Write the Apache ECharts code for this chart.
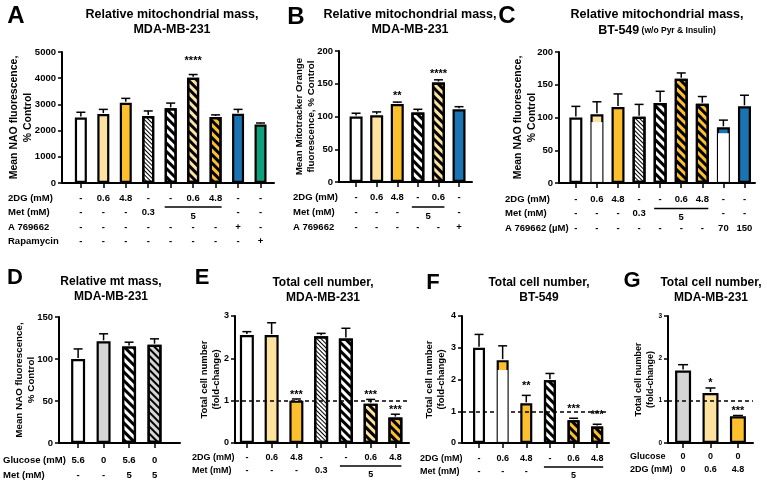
<!DOCTYPE html>
<html>
<head>
<meta charset="utf-8">
<script src="https://cdn.jsdelivr.net/npm/echarts@6/dist/echarts.min.js"></script>
<style>
  html, body { margin: 0; padding: 0; background: #fff; }
  #main { width: 767px; height: 487px; }
</style>
</head>
<body>
<div id="main"></div>
<script>
// ---- A: relative mitochondrial mass, MDA-MB-231 (NAO)
const aMean = [2500, 2630, 3060, 2560, 2850, 4020, 2520, 2640, 2230];
const aSem = [200, 180, 170, 190, 200, 120, 80, 170, 60];
const aStars = ['', '', '', '', '', '****', '', '', ''];
const aDG = ['-', '0.6', '4.8', '-', '-', '0.6', '4.8', '-', '-'];
const aMet = ['-', '-', '-', '0.3', '', '', '', '-', '-'];
const aA76 = ['-', '-', '-', '-', '-', '-', '-', '+', '-'];
const aRapa = ['-', '-', '-', '-', '-', '-', '-', '-', '+'];

// ---- B: relative mitochondrial mass, MDA-MB-231 (Mitotracker Orange)
const bMean = [100, 102, 119, 106, 152, 111];
const bSem = [5, 5, 3, 5, 4, 4];
const bStars = ['', '', '**', '', '****', ''];
const bDG = ['-', '0.6', '4.8', '-', '0.6', '-'];
const bMet = ['-', '-', '-', '', '', '-'];
const bA76 = ['-', '-', '-', '-', '-', '+'];

// ---- C: relative mitochondrial mass, BT-549
const cMean = [100, 105, 116, 101, 122, 159, 121, 85, 117];
const cSem = [17, 19, 20, 19, 18, 9, 11, 11, 17];
const cSplit = [0, 93, 0, 0, 0, 0, 0, 76, 0];
const cStars = ['', '', '', '', '', '', '', '', ''];
const cDG = ['-', '0.6', '4.8', '-', '-', '0.6', '4.8', '-', '-'];
const cMet = ['-', '-', '-', '0.3', '', '', '', '-', '-'];
const cA76 = ['-', '-', '-', '-', '-', '-', '-', '70', '150'];

// ---- D: relative mt mass, MDA-MB-231
const dMean = [100, 121, 115, 117];
const dSem = [12, 9, 5, 7];
const dStars = ['', '', '', ''];
const dGlc = ['5.6', '0', '5.6', '0'];
const dMet = ['-', '-', '5', '5'];

// ---- E: total cell number, MDA-MB-231
const eMean = [2.55, 2.55, 1.0, 2.52, 2.47, 0.93, 0.6];
const eSem = [0.08, 0.29, 0.04, 0.07, 0.24, 0.1, 0.08];
const eStars = ['', '', '***', '', '', '***', '***'];
const eDG = ['-', '0.6', '4.8', '-', '-', '0.6', '4.8'];
const eMet = ['-', '-', '-', '0.3', '', '', ''];

// ---- F: total cell number, BT-549
const fMean = [3.0, 2.61, 1.25, 1.98, 0.72, 0.52];
const fSem = [0.42, 0.45, 0.25, 0.21, 0.06, 0.07];
const fSplit = [0, 2.3, 0, 0, 0, 0];
const fStars = ['', '', '**', '', '***', '***'];
const fDG = ['-', '0.6', '4.8', '-', '0.6', '4.8'];
const fMet = ['-', '-', '-', '', '', ''];

// ---- G: total cell number, MDA-MB-231 (glucose free)
const gMean = [1.71, 1.18, 0.63];
const gSem = [0.14, 0.12, 0.02];
const gStars = ['', '*', '***'];
const gGlc = ['0', '0', '0'];
const gDG = ['0', '0.6', '4.8'];

const FONT = '"Liberation Sans", Arial, sans-serif';

function stripes(w, gap) {
  return { symbol: 'rect', symbolSize: 1, dashArrayX: [1, 0], dashArrayY: [w, gap], rotation: Math.PI / 4, color: '#000', backgroundColor: null };
}
const fills = {
  white: { color: '#ffffff' },
  light: { color: '#fde2a0' },
  yellow: { color: '#fcc02e' },
  blue: { color: '#1a74b2' },
  green: { color: '#11a07b' },
  grey: { color: '#d5d5d5' },
  fine: { color: '#ffffff', decal: stripes(1, 1.4) },
  hatch: { color: '#ffffff', decal: stripes(2.3, 2.7) },
  lightHatch: { color: '#fde2a0', decal: stripes(2.3, 2.7) },
  yellowHatch: { color: '#fcc02e', decal: stripes(2.3, 2.7) },
  greyHatch: { color: '#d5d5d5', decal: stripes(1.6, 2.4) }
};

const panels = [
  { letter: 'A', letterPos: [16, 16], letterSize: 24, title: ['Relative mitochondrial mass,', 'MDA-MB-231'], titlePos: [172, 15], titleSize: 12.5,
    grid: { left: 62, top: 52, width: 212, height: 131 }, xMin: -0.84, xMax: 8.6, yMax: 5000, yStep: 1000,
    yName: 'Mean NAO fluorescence,\n% Control', yNameSize: 10.5, yNameGap: 27, tickSize: 9.5,
    barWidth: 12, cap: 4.5, starGap: 14, mean: aMean, sem: aSem, stars: aStars,
    fill: ['white', 'light', 'yellow', 'fine', 'hatch', 'lightHatch', 'yellowHatch', 'blue', 'green'],
    rowX: 8, rowSize: 9.5,
    rows: [{ name: '2DG (mM)', vals: aDG, off: 15 }, { name: 'Met (mM)', vals: aMet, off: 29 }, { name: 'A 769662', vals: aA76, off: 44 }, { name: 'Rapamycin', vals: aRapa, off: 58 }],
    span: { row: 1, from: 4, to: 6, label: '5' } },
  { letter: 'B', letterPos: [296, 17], letterSize: 24, title: ['Relative mitochondrial mass,', 'MDA-MB-231'], titlePos: [410, 15], titleSize: 12.5,
    grid: { left: 339, top: 51, width: 133, height: 131 }, xMin: -0.83, xMax: 5.63, yMax: 200, yStep: 50,
    yName: 'Mean Mitotracker Orange\nfluorescence, % Control', yNameSize: 9.8, yNameGap: 21, tickSize: 9.5,
    barWidth: 13, cap: 4.5, starGap: 6, mean: bMean, sem: bSem, stars: bStars,
    fill: ['white', 'light', 'yellow', 'hatch', 'lightHatch', 'blue'],
    rowX: 293, rowSize: 9.5,
    rows: [{ name: '2DG (mM)', vals: bDG, off: 15 }, { name: 'Met (mM)', vals: bMet, off: 30 }, { name: 'A 769662', vals: bA76, off: 45 }],
    span: { row: 1, from: 3, to: 4, label: '5' } },
  { letter: 'C', letterPos: [507, 16], letterSize: 24, title: ['Relative mitochondrial mass,', 'BT-549'], titleSub: ' (w/o Pyr & Insulin)', titlePos: [657, 15], titleSize: 12.5,
    grid: { left: 559, top: 52, width: 196, height: 131 }, xMin: -0.8, xMax: 8.5, yMax: 200, yStep: 50,
    yName: 'Mean NAO fluorescence,\n% Control', yNameSize: 10.5, yNameGap: 20, tickSize: 9.5,
    barWidth: 13, cap: 4.5, starGap: 6, mean: cMean, sem: cSem, stars: cStars, split: cSplit,
    fill: ['white', 'light', 'yellow', 'fine', 'hatch', 'yellowHatch', 'yellowHatch', 'blue', 'blue'],
    rowX: 505, rowSize: 9.5,
    rows: [{ name: '2DG (mM)', vals: cDG, off: 16 }, { name: 'Met (mM)', vals: cMet, off: 30.5 }, { name: 'A 769662 (µM)', vals: cA76, off: 45 }],
    span: { row: 1, from: 4, to: 6, label: '5' } },
  { letter: 'D', letterPos: [15, 278], letterSize: 22, title: ['Relative mt mass,', 'MDA-MB-231'], titlePos: [111, 282], titleSize: 12,
    grid: { left: 59, top: 317, width: 121, height: 126 }, xMin: -0.75, xMax: 4.0, yMax: 150, yStep: 50,
    yName: 'Mean NAO fluorescence,\n% Control', yNameSize: 9.8, yNameGap: 21, tickSize: 9.5,
    barWidth: 14, cap: 4.5, starGap: 6, mean: dMean, sem: dSem, stars: dStars,
    fill: ['white', 'grey', 'hatch', 'greyHatch'],
    rowX: 3, rowSize: 9.5,
    rows: [{ name: 'Glucose (mM)', vals: dGlc, off: 17 }, { name: 'Met (mM)', vals: dMet, off: 32 }] },
  { letter: 'E', letterPos: [202, 278], letterSize: 22, title: ['Total cell number,', 'MDA-MB-231'], titlePos: [323, 283], titleSize: 12,
    grid: { left: 235, top: 316, width: 174, height: 127 }, xMin: -0.48, xMax: 6.55, yMax: 3, yStep: 1,
    yName: 'Total cell number\n(fold-change)', yNameSize: 9.5, yNameGap: 12, tickSize: 9,
    barWidth: 14, cap: 4.5, starGap: 4, mean: eMean, sem: eSem, stars: eStars, refLine: 1,
    fill: ['white', 'light', 'yellow', 'fine', 'hatch', 'lightHatch', 'yellowHatch'],
    rowX: 192, rowSize: 9,
    rows: [{ name: '2DG (mM)', vals: eDG, off: 15 }, { name: 'Met (mM)', vals: eMet, off: 28 }],
    span: { row: 1, from: 4, to: 6, label: '5' } },
  { letter: 'F', letterPos: [433, 283], letterSize: 22, title: ['Total cell number,', 'BT-549'], titlePos: [539, 283], titleSize: 12,
    grid: { left: 462, top: 316, width: 147, height: 127 }, xMin: -0.72, xMax: 5.5, yMax: 4, yStep: 1,
    yName: 'Total cell number\n(fold-change)', yNameSize: 9.5, yNameGap: 14, tickSize: 9,
    barWidth: 12, cap: 4.5, starGap: 9, mean: fMean, sem: fSem, stars: fStars, split: fSplit, refLine: 1,
    fill: ['white', 'yellow', 'yellow', 'hatch', 'yellowHatch', 'yellowHatch'],
    rowX: 420, rowSize: 9,
    rows: [{ name: '2DG (mM)', vals: fDG, off: 16 }, { name: 'Met (mM)', vals: fMet, off: 29 }],
    span: { row: 1, from: 3, to: 5, label: '5' } },
  { letter: 'G', letterPos: [632, 281], letterSize: 22, title: ['Total cell number,', 'MDA-MB-231'], titlePos: [711, 283], titleSize: 12,
    grid: { left: 668, top: 316, width: 85, height: 127 }, xMin: -0.55, xMax: 2.55, yMax: 3, yStep: 1,
    yName: 'Total cell number\n(fold-change)', yNameSize: 9, yNameGap: 12, tickSize: 6.5,
    barWidth: 16, cap: 5, starGap: 5, mean: gMean, sem: gSem, stars: gStars, refLine: 1,
    fill: ['grey', 'light', 'yellow'],
    rowX: 630, rowSize: 9,
    rows: [{ name: 'Glucose', vals: gGlc, off: 14 }, { name: '2DG (mM)', vals: gDG, off: 27 }] }
];

const txt = (size) => ({ fontSize: size, fontWeight: 'bold', fontFamily: FONT, color: '#000' });

const option = { animation: false, backgroundColor: '#fff', grid: [], xAxis: [], yAxis: [], series: [] };

panels.forEach((p, gi) => {
  const idx = p.mean.map((_, i) => i);
  option.grid.push(Object.assign({ containLabel: false }, p.grid));
  p.mainX = option.xAxis.length;
  option.xAxis.push({
    gridIndex: gi, type: 'value', position: 'bottom', min: p.xMin, max: p.xMax,
    axisLine: { show: true, onZero: false, lineStyle: { color: '#000', width: 2 } },
    axisTick: { show: true, customValues: idx, length: 5, lineStyle: { color: '#000', width: 1.5 } },
    axisLabel: { show: false }, splitLine: { show: false }
  });
  p.rows.forEach(r => {
    option.xAxis.push({
      gridIndex: gi, type: 'value', position: 'bottom', offset: r.off, min: p.xMin, max: p.xMax,
      axisLine: { show: false, onZero: false }, axisTick: { show: false }, splitLine: { show: false },
      axisLabel: Object.assign(txt(p.rowSize), {
        customValues: idx, margin: 0, verticalAlign: 'middle',
        formatter: v => r.vals[Math.round(v)] || ''
      })
    });
  });
  option.yAxis.push({
    gridIndex: gi, type: 'value', position: 'left', min: 0, max: p.yMax, interval: p.yStep,
    name: p.yName, nameLocation: 'middle', nameRotate: 90, nameGap: p.yNameGap, nameMoveOverlap: false,
    nameTextStyle: Object.assign(txt(p.yNameSize), { lineHeight: p.yNameSize * 1.3 }),
    axisLine: { show: true, onZero: false, lineStyle: { color: '#000', width: 2 } },
    axisTick: { show: true, length: 4, lineStyle: { color: '#000', width: 1.5 } },
    axisLabel: Object.assign(txt(p.tickSize), { margin: 6, formatter: v => String(v) }),
    splitLine: { show: false }
  });

  const bar = {
    type: 'bar', xAxisIndex: p.mainX, yAxisIndex: gi, barWidth: p.barWidth, z: 2,
    itemStyle: { borderColor: '#000', borderWidth: 2.2 },
    data: p.mean.map((v, i) => ({ value: [i, v], itemStyle: fills[p.fill[i]] }))
  };
  if (p.refLine) {
    bar.markLine = {
      silent: true, symbol: ['none', 'none'], label: { show: false },
      lineStyle: { color: '#000', type: [4, 3], width: 1.5 },
      data: [{ yAxis: p.refLine }]
    };
  }
  option.series.push(bar);

  option.series.push({
    type: 'custom', xAxisIndex: p.mainX, yAxisIndex: gi, z: 6, silent: true,
    data: p.mean.map((v, i) => [i, v, p.sem[i], p.split ? p.split[i] : 0]),
    renderItem: (params, api) => {
      const i = api.value(0), v = api.value(1), e = api.value(2), s = api.value(3);
      const base = api.coord([i, v]);
      const top = api.coord([i, v + e]);
      const zero = api.coord([i, 0]);
      const x = base[0];
      const kids = [];
      if (s > 0) {
        const sp = api.coord([i, s]);
        kids.push({ type: 'rect', shape: { x: x - p.barWidth / 2 + 1.1, y: sp[1], width: p.barWidth - 2.2, height: zero[1] - 1.1 - sp[1] }, style: { fill: '#fff' } });
      }
      kids.push({ type: 'line', shape: { x1: x, y1: base[1] - 1, x2: x, y2: top[1] }, style: { stroke: '#000', lineWidth: 1.5 } });
      kids.push({ type: 'line', shape: { x1: x - p.cap, y1: top[1], x2: x + p.cap, y2: top[1] }, style: { stroke: '#000', lineWidth: 1.5 } });
      const st = p.stars[params.dataIndex];
      if (st) {
        kids.push({ type: 'text', style: { text: st, x: x, y: top[1] - p.starGap, align: 'center', verticalAlign: 'middle', fontSize: 11, fontWeight: 'bold', fontFamily: FONT, fill: '#000' } });
      }
      return { type: 'group', children: kids };
    }
  });
});

const chart = echarts.init(document.getElementById('main'), null, { renderer: 'canvas' });
chart.setOption(option);

// text around the plots: letters, titles, condition table row names, "5" brackets
const graphic = [];
const gtext = (text, x, y, size, align) => ({
  type: 'text', silent: true,
  style: { text: text, x: x, y: y, align: align || 'left', verticalAlign: 'middle', fontSize: size, fontWeight: 'bold', fontFamily: FONT, fill: '#000' }
});
panels.forEach(p => {
  graphic.push(gtext(p.letter, p.letterPos[0], p.letterPos[1], p.letterSize, 'center'));
  const tx = p.titlePos[0], ty = p.titlePos[1];
  graphic.push(gtext(p.title[0], tx, ty, p.titleSize, 'center'));
  if (p.titleSub) {
    graphic.push({
      type: 'text', silent: true,
      style: {
        text: '{a|' + p.title[1] + '}{b|' + p.titleSub + '}', x: tx, y: ty + 16, align: 'center', verticalAlign: 'middle',
        rich: {
          a: { fontSize: p.titleSize, fontWeight: 'bold', fontFamily: FONT, fill: '#000' },
          b: { fontSize: 8.5, fontWeight: 'bold', fontFamily: FONT, fill: '#000' }
        }
      }
    });
  } else {
    graphic.push(gtext(p.title[1], tx, ty + 15, p.titleSize, 'center'));
  }
  const bottom = p.grid.top + p.grid.height;
  p.rows.forEach(r => graphic.push(gtext(r.name, p.rowX, bottom + r.off, p.rowSize, 'left')));
  if (p.span) {
    const y = bottom + p.rows[p.span.row].off;
    const x1 = chart.convertToPixel({ xAxisIndex: p.mainX }, p.span.from) - 6;
    const x2 = chart.convertToPixel({ xAxisIndex: p.mainX }, p.span.to) + 6;
    graphic.push({ type: 'line', silent: true, shape: { x1: x1, y1: y - 5, x2: x2, y2: y - 5 }, style: { stroke: '#000', lineWidth: 1.5 } });
    graphic.push(gtext(p.span.label, (x1 + x2) / 2, y + 4, p.rowSize, 'center'));
  }
});
chart.setOption({ graphic: graphic });
</script>
</body>
</html>
